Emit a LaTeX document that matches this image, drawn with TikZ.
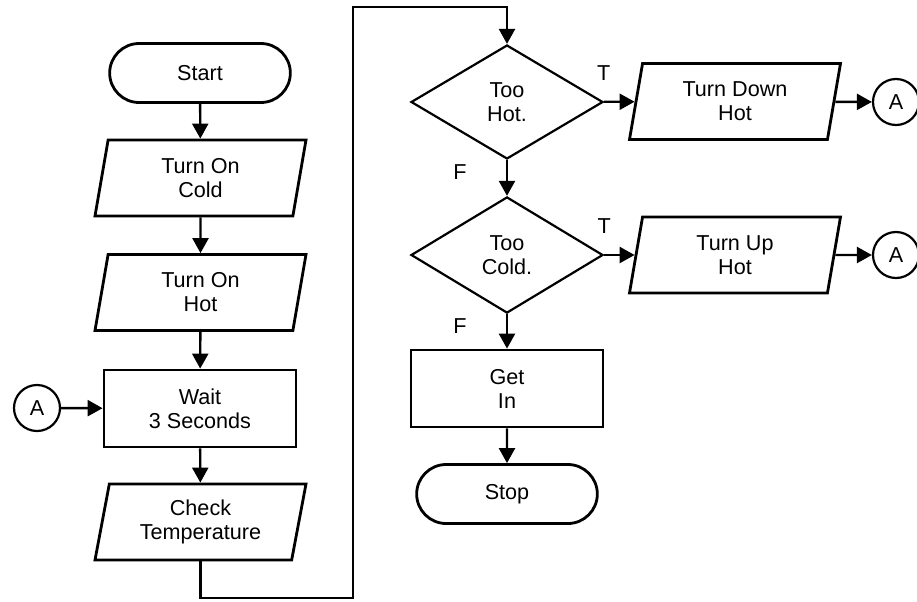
\documentclass[tikz,border=0pt]{standalone}
\usepackage{fontspec}
\setmainfont{Liberation Sans}
\usetikzlibrary{shapes.geometric,shapes.misc,arrows.meta}

\begin{document}
\begin{tikzpicture}[x=0.5pt,y=-0.5pt,
	font=\fontsize{10.8pt}{12pt}\selectfont,
	every node/.style={align=center, line width=1.4pt},
	terminal/.style={draw, rounded rectangle, minimum width=97pt, minimum height=29.5pt},
	io/.style={draw, trapezium, trapezium left angle=76, trapezium right angle=104, trapezium stretches body, minimum width=105.5pt, minimum height=38pt},
	process/.style={draw, rectangle, minimum width=96pt, minimum height=38.5pt},
	decision/.style={draw, diamond, minimum width=96pt, minimum height=57pt, line width=1.1pt},
	connector/.style={draw, circle, minimum size=23pt, inner sep=0pt, line width=1.1pt},
	flow/.style={line width=1.2pt, -{Triangle[length=7.5pt,width=8pt]}}]
	
	\useasboundingbox (0,0) rectangle (917,601);
	
	\node[terminal] (start) at (200,73) {Start};
	\node[io] (cold) at (200.5,178) {Turn On\\Cold};
	\node[io] (hot) at (200.5,292.5) {Turn On\\Hot};
	\node[process] (wait) at (200,408.5) {Wait\\3 Seconds};
	\node[io] (check) at (200.5,522) {Check\\Temperature};
	\node[connector] (aIn) at (37,408) {A};
	
	\node[decision] (tooHot) at (507,102) {Too\\Hot.};
	\node[io] (down) at (735,101.5) {Turn Down\\Hot};
	\node[connector] (aHot) at (896,102) {A};
	\node[decision] (tooCold) at (507,255) {Too\\Cold.};
	\node[io] (up) at (735,255) {Turn Up\\Hot};
	\node[connector] (aCold) at (896,255) {A};
	\node[process] (getIn) at (507,388.5) {Get\\In};
	\node[terminal] (stop) at (507,494) {Stop};
	
	\coordinate (loopLow) at (353,598);
	\coordinate (loopHigh) at (353,7);
	
	\draw[flow] (start) -- (cold);
	\draw[flow] (cold) -- (hot);
	\draw[flow] (hot) -- (wait);
	\draw[flow] (wait) -- (check);
	\draw[flow] (aIn) -- (wait);
	\draw[flow] (check.south) |- (loopLow) -- (loopHigh) -| (tooHot.north);
	
	\path[flow] (tooHot) edge node[at start, above=6.5pt] {T} (down);
	\path[flow] (tooHot) edge node[at start, xshift=-23.5pt, yshift=-6pt] {F} (tooCold);
	\path[flow] (tooCold) edge node[at start, above=6.5pt] {T} (up);
	\path[flow] (tooCold) edge node[at start, xshift=-23.5pt, yshift=-6pt] {F} (getIn);
	\draw[flow] (down) -- (aHot);
	\draw[flow] (up) -- (aCold);
	\draw[flow] (getIn) -- (stop);
	
\end{tikzpicture}
\end{document}
